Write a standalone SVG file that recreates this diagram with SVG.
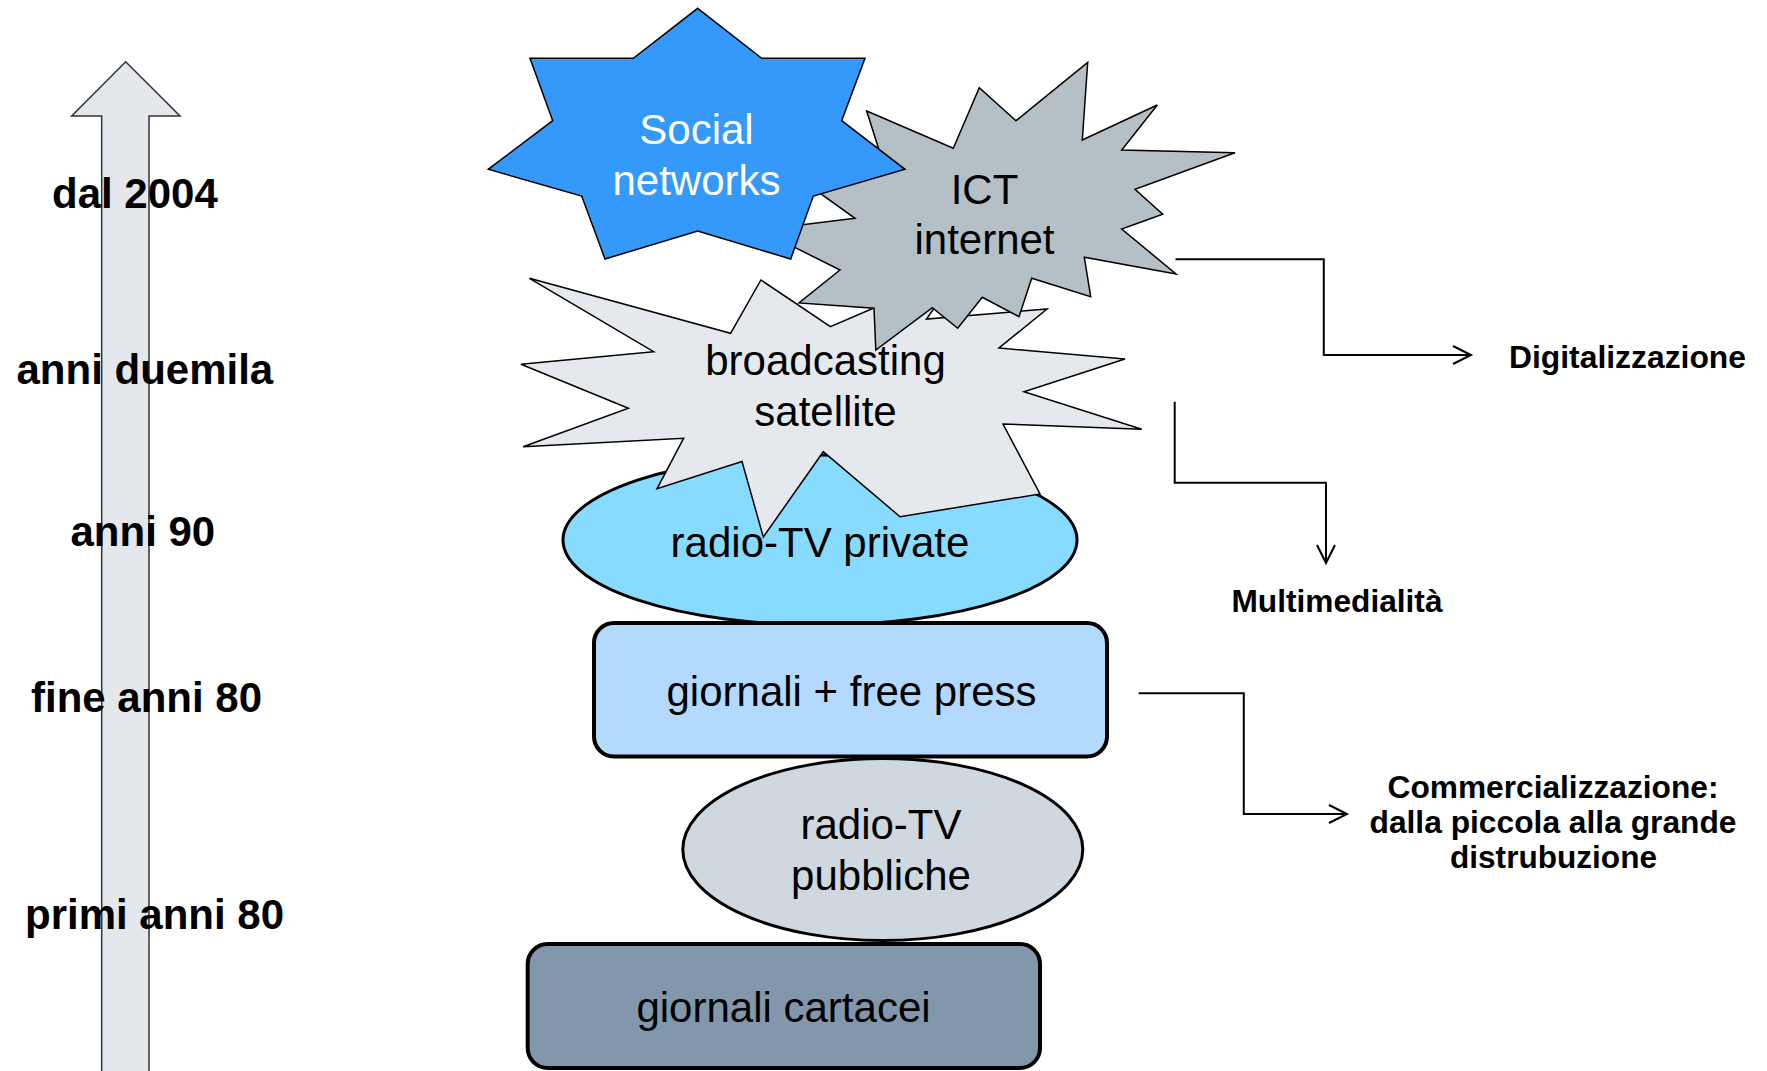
<svg xmlns="http://www.w3.org/2000/svg" width="1767" height="1071" viewBox="0 0 1767 1071">
<defs>
<style>
.lbl{font-family:"Liberation Sans",Arial,sans-serif;font-size:42px;font-weight:bold;fill:#000}
.nt{font-family:"Liberation Sans",Arial,sans-serif;font-size:42px;fill:#000;text-anchor:middle}
.rt{font-family:"Liberation Sans",Arial,sans-serif;font-size:31.5px;font-weight:bold;fill:#000}
.star{stroke:#000;stroke-width:1.5;stroke-linejoin:miter}
.thick{stroke:#000;stroke-width:4}
.conn{fill:none;stroke:#000;stroke-width:2}
</style>
<marker id="chev" markerUnits="userSpaceOnUse" markerWidth="22" markerHeight="22" viewBox="0 0 22 22" refX="19" refY="10" orient="auto">
<path d="M1,1 L19,10 L1,19" fill="none" stroke="#000" stroke-width="2"/>
</marker>
</defs>
<rect width="1767" height="1071" fill="#fff"/>

<g id="timeline">
<polygon points="125.7,61.7 180,116 149,116 149,1080 101.7,1080 101.7,116 71.7,116" fill="#e4e7ec" stroke="#333" stroke-width="1.5"/>
<text class="lbl" x="52" y="208">dal 2004</text>
<text class="lbl" x="16.5" y="384">anni duemila</text>
<text class="lbl" x="70.5" y="546">anni 90</text>
<text class="lbl" x="31" y="712">fine anni 80</text>
<text class="lbl" x="25" y="929">primi anni 80</text>
</g>

<g id="node-giornali-cartacei">
<rect x="527.7" y="944" width="512.3" height="124" rx="20" fill="#8297ab" class="thick"/>
<text class="nt" x="783.5" y="1022">giornali cartacei</text>
</g>

<g id="node-radio-tv-pubbliche">
<ellipse cx="882.8" cy="849.5" rx="200" ry="91" fill="#cfd7df" stroke="#000" stroke-width="3"/>
<text class="nt" x="881" y="839">radio-TV</text>
<text class="nt" x="881" y="890">pubbliche</text>
</g>

<g id="node-radio-tv-private">
<ellipse cx="820" cy="540" rx="257" ry="85" fill="#87dbff" stroke="#000" stroke-width="3"/>
<text class="nt" x="820" y="556.5">radio-TV private</text>
</g>

<g id="node-giornali-free-press">
<rect x="594" y="623" width="513" height="133.5" rx="20" fill="#b3d9fe" class="thick"/>
<text class="nt" x="851.5" y="705.5">giornali + free press</text>
</g>

<g id="node-broadcasting">
<polygon class="star" fill="#e5e8ed" points="529.5,278.3 730.6,333.3 760.9,280 830.4,326.7 960,271 926.5,319 1047,309 999,348 1125,359 1024,391.7 1141.8,429.3 1003,424 1040,494 900,516.7 823.3,451.7 763.3,537 742,461.5 657,488.8 683.6,438.3 523.1,446.7 628.4,408.3 521,364.3 653.6,351.7"/>
<text class="nt" x="825.5" y="375">broadcasting</text>
<text class="nt" x="825.5" y="426">satellite</text>
</g>

<g id="node-ict">
<polygon class="star" fill="#b5bfc6" points="866.7,111 953.3,148.3 979.3,87.7 1016,120.7 1087.7,62.3 1082.3,140 1157.3,105 1121.7,150 1235,152.7 1135,189.3 1162.7,214.3 1121.7,229 1176,274 1084.3,257.3 1090.7,296.7 1031.7,278.3 1019,316.7 982.3,297.3 957.7,328.3 932.3,307.7 875.8,350 874,308.3 799,303 840,270 760,230 855,218.3 785,168 886,172"/>
<text class="nt" x="984.5" y="204">ICT</text>
<text class="nt" x="984.5" y="254">internet</text>
</g>

<g id="node-social">
<polygon class="star" fill="#3598fb" points="697.7,8.3 761.7,58.3 865,58.3 841.7,120.7 905,169.3 813.3,196 790.7,259 697.7,231 605,259 581.7,196 488.3,169.3 552.7,120.7 530,58.3 633.3,58.3"/>
<text class="nt" x="696.5" y="144" style="fill:#fff">Social</text>
<text class="nt" x="696.5" y="195" style="fill:#fff">networks</text>
</g>

<g id="connectors">
<path class="conn" d="M1175.5,259.3 H1323.8 V355 H1471" marker-end="url(#chev)"/>
<path class="conn" d="M1174.7,401.7 V482.7 H1326 V563" marker-end="url(#chev)"/>
<path class="conn" d="M1138.6,693.3 H1243.8 V814 H1347" marker-end="url(#chev)"/>
</g>

<g id="label-digitalizzazione">
<text class="rt" x="1509" y="367.5" textLength="237" lengthAdjust="spacingAndGlyphs">Digitalizzazione</text>
</g>
<g id="label-multimedialita">
<text class="rt" x="1231.5" y="611.5" textLength="211" lengthAdjust="spacingAndGlyphs">Multimedialità</text>
</g>
<g id="label-commercializzazione">
<text class="rt" x="1387.5" y="798" textLength="331" lengthAdjust="spacingAndGlyphs">Commercializzazione:</text>
<text class="rt" x="1369.5" y="833" textLength="367" lengthAdjust="spacingAndGlyphs">dalla piccola alla grande</text>
<text class="rt" x="1450" y="868" textLength="207" lengthAdjust="spacingAndGlyphs">distrubuzione</text>
</g>
</svg>
